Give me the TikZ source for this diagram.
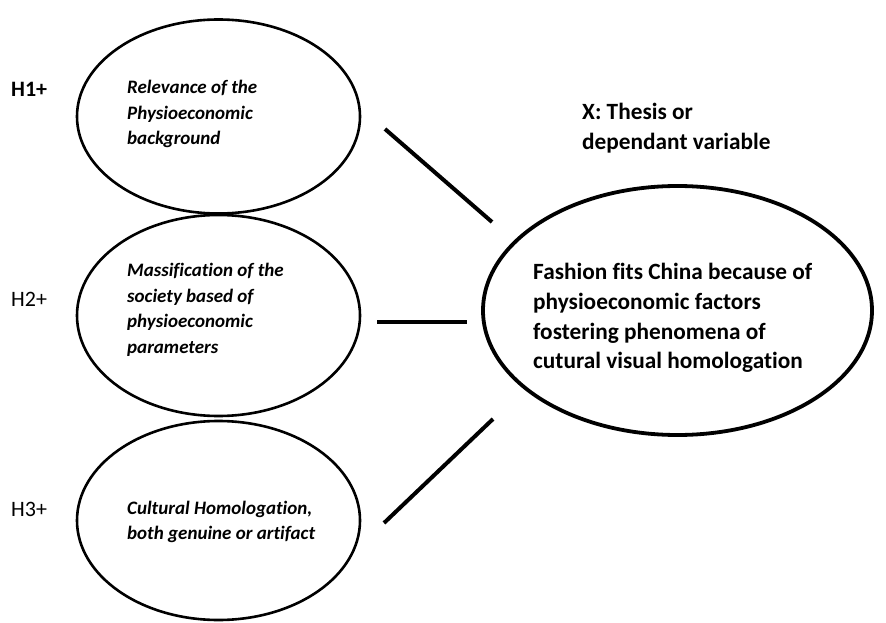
\documentclass[tikz,border=0pt]{standalone}
\usepackage{fontspec}
\setmainfont{Carlito}[Ligatures={NoCommon,NoContextual}]
\usetikzlibrary{shapes.geometric}
\begin{document}
\begin{tikzpicture}[x=1pt,y=-1pt,
  hyp/.style={draw=black, line width=2.6pt, ellipse, inner sep=0pt},
  hyptext/.style={anchor=west, align=left, inner sep=0pt, font=\fontsize{19}{25.5}\selectfont\bfseries\itshape},
  hlabel/.style={anchor=west, inner sep=0pt, font=\fontsize{22}{24}\selectfont},
  link/.style={line width=4pt},
  maintext/.style={anchor=west, align=left, inner sep=0pt, font=\fontsize{23.3}{29.7}\selectfont\bfseries}]
\useasboundingbox (0,0) rectangle (886,623);
% hypothesis ellipses
\node[hyp, minimum width=283pt, minimum height=194pt] (e1) at (218.5,116.5) {};
\node[hyp, minimum width=283pt, minimum height=201pt] (e2) at (218.5,315.5) {};
\node[hyp, minimum width=283pt, minimum height=199pt] (e3) at (218.5,520.5) {};
% main ellipse
\node[draw=black, line width=3.8pt, ellipse, inner sep=0pt, minimum width=389pt, minimum height=249pt] (m) at (677.5,310.5) {};
% texts
\node[hyptext] (t1) at (127,114) {Relevance of the\\Physioeconomic\\background};
\node[hyptext] (t2) at (127,310) {Massification of the\\society based of\\physioeconomic\\parameters};
\node[hyptext] (t3) at (127,522) {Cultural Homologation,\\both genuine or artifact};
\node[hlabel, font=\fontsize{22}{24}\selectfont\bfseries] (h1) at (11,89) {H1+};
\node[hlabel] (h2) at (11,299) {H2+};
\node[hlabel] (h3) at (11,509) {H3+};
\node[maintext] (x) at (582,128) {X: Thesis or\\dependant variable};
\node[maintext] (mt) at (533,318) {Fashion fits China because of\\physioeconomic factors\\fostering phenomena of\\cutural visual homologation};
% connector ends
\coordinate (a1) at (385,129);
\coordinate (b1) at (492,222);
\coordinate (a2) at (377,322);
\coordinate (b2) at (467,322);
\coordinate (a3) at (384,523);
\coordinate (b3) at (493,419);
\draw[link] (a1) -- (b1);
\draw[link] (a2) -- (b2);
\draw[link] (a3) -- (b3);
\end{tikzpicture}
\end{document}
